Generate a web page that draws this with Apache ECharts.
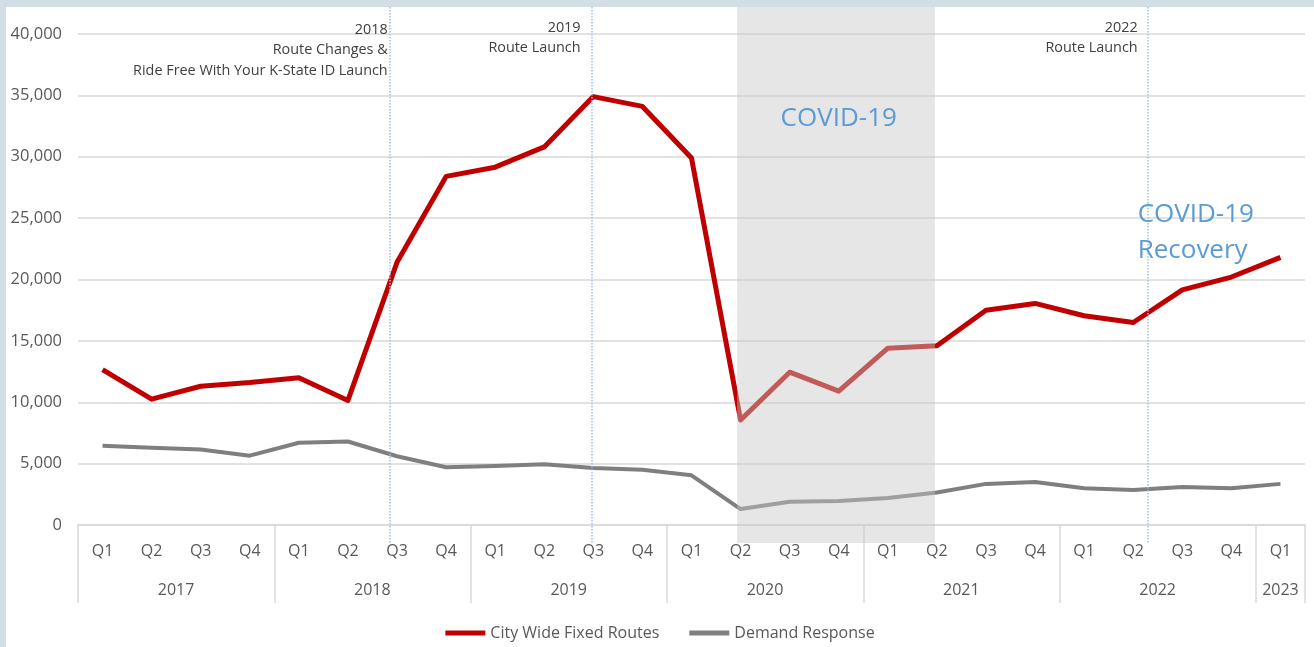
<!DOCTYPE html>
<html>
<head>
<meta charset="utf-8">
<script src="https://cdn.jsdelivr.net/npm/echarts@6/dist/echarts.min.js"></script>
<style>
  html, body { margin: 0; padding: 0; background: #d2dee6; }
  #output { position: absolute; left: 6px; top: 7px; width: 1308px; height: 640px; background: #fff; }
</style>
</head>
<body>
<div id="output"></div>
<script>
const chart = echarts.init(document.getElementById('output'));

// quarters along the x axis, grouped by year
const years = ['2017', '2018', '2019', '2020', '2021', '2022', '2023']
const quartersPerYear = [4, 4, 4, 4, 4, 4, 1]
const quarterNames = ['Q1', 'Q2', 'Q3', 'Q4']

const cityWide = [12650, 10250, 11300, 11600, 12000, 10150, 21400, 28400,
  29150, 30800, 34900, 34100, 29900, 8550, 12450, 10900,
  14400, 14600, 17500, 18050, 17050, 16500, 19150, 20200, 21800]
const demandResponse = [6450, 6300, 6150, 5650, 6700, 6800, 5600, 4700,
  4800, 4950, 4650, 4500, 4050, 1300, 1900, 1950,
  2200, 2650, 3350, 3500, 3000, 2850, 3100, 3000, 3350]

// annotations, x given in quarter index units (0 = 2017 Q1)
const eventLines = [5.86, 9.97, 21.3]
const eventNotes = [
  { x: 5.82, y: 38700, text: '2018\nRoute Changes &\nRide Free With Your K-State ID Launch' },
  { x: 9.75, y: 39680, text: '2019\nRoute Launch' },
  { x: 21.1, y: 39680, text: '2022\nRoute Launch' }
]
const covidSpan = [12.93, 16.96]

const categories = []
const yearOfCat = []
years.forEach((y, i) => {
  for (let q = 0; q < quartersPerYear[i]; q++) {
    categories.push(y + ' ' + quarterNames[q])
    yearOfCat.push(y)
  }
})

const axisColor = '#d9d9d9'
const labelColor = '#595959'
const font = 'Open Sans'

const option = {
  animation: false,
  textStyle: { fontFamily: font },
  grid: { left: 72, right: 9, top: 27, bottom: 122 },
  legend: {
    data: ['City Wide Fixed Routes', 'Demand Response'],
    top: 613,
    left: 'center',
    icon: 'rect',
    itemWidth: 40,
    itemHeight: 5,
    itemGap: 30,
    textStyle: { color: labelColor, fontSize: 16, fontFamily: font }
  },
  xAxis: [
    {
      type: 'category',
      data: categories,
      position: 'bottom',
      boundaryGap: true,
      axisLine: { lineStyle: { color: axisColor, width: 1.5 } },
      axisTick: { show: false },
      axisLabel: {
        interval: 0,
        margin: 18,
        color: labelColor,
        fontSize: 16,
        formatter: v => v.split(' ')[1]
      }
    },
    {
      type: 'category',
      data: categories,
      position: 'bottom',
      boundaryGap: true,
      axisLine: { show: false },
      axisTick: {
        show: true,
        interval: i => i % 4 === 0,
        length: 78,
        lineStyle: { color: axisColor, width: 1.5 }
      },
      axisLabel: {
        interval: i => i % 4 === 0,
        margin: 57,
        color: labelColor,
        fontSize: 16,
        formatter: (v, i) => i === categories.length - 1 ? '{b|' + yearOfCat[i] + '}' : '{a|' + yearOfCat[i] + '}',
        rich: {
          a: { color: labelColor, fontSize: 16, fontFamily: font, padding: [0, 0, 0, 147] },
          b: { color: labelColor, fontSize: 16, fontFamily: font }
        }
      }
    },
    {
      type: 'value',
      min: -0.5,
      max: 24.5,
      show: false
    }
  ],
  yAxis: {
    type: 'value',
    min: 0,
    max: 40000,
    interval: 5000,
    axisLine: { show: false },
    axisTick: { show: false },
    axisLabel: { color: labelColor, fontSize: 16.5, margin: 16 },
    splitLine: { lineStyle: { color: axisColor, width: 1.5 } }
  },
  series: [
    {
      name: 'City Wide Fixed Routes',
      type: 'line',
      data: cityWide,
      symbol: 'none',
      z: 2,
      lineStyle: { color: '#c00000', width: 5, join: 'round' },
      itemStyle: { color: '#c00000' }
    },
    {
      name: 'Demand Response',
      type: 'line',
      data: demandResponse,
      symbol: 'none',
      z: 2,
      lineStyle: { color: '#7f7f7f', width: 4, join: 'round' },
      itemStyle: { color: '#7f7f7f' }
    },
    {
      name: 'notes',
      type: 'line',
      xAxisIndex: 2,
      data: [],
      silent: true,
      markArea: {
        z: 3,
        silent: true,
        itemStyle: { color: 'rgba(200,200,200,0.45)' },
        data: [[{ xAxis: covidSpan[0], y: 0 }, { xAxis: covidSpan[1], y: 536 }]]
      },
      markLine: {
        z: 4,
        silent: true,
        symbol: ['none', 'none'],
        label: { show: false },
        lineStyle: { color: '#9dc3e6', type: 'dotted', width: 1.5 },
        data: eventLines.map(x => [{ xAxis: x, y: 0 }, { xAxis: x, y: 536 }])
      },
      markPoint: {
        z: 5,
        silent: true,
        symbol: 'circle',
        symbolSize: 1,
        itemStyle: { color: 'rgba(0,0,0,0)' },
        data: eventNotes.map(n => ({
          coord: [n.x, n.y],
          label: {
            show: true,
            position: 'left',
            distance: 0,
            align: 'right',
            formatter: n.text,
            color: '#404040',
            fontSize: 14.4,
            lineHeight: 20.5,
            fontFamily: font
          }
        })).concat([
          {
            coord: [15, 33080],
            label: { show: true, position: 'inside', formatter: 'COVID-19', color: '#5b9bd5', fontSize: 26, fontFamily: font }
          },
          {
            coord: [21.08, 23830],
            label: { show: true, position: 'right', distance: 0, align: 'left', formatter: 'COVID-19\nRecovery', color: '#5b9bd5', fontSize: 26, lineHeight: 36, fontFamily: font }
          }
        ])
      }
    }
  ]
}

chart.setOption(option)
</script>
</body>
</html>
